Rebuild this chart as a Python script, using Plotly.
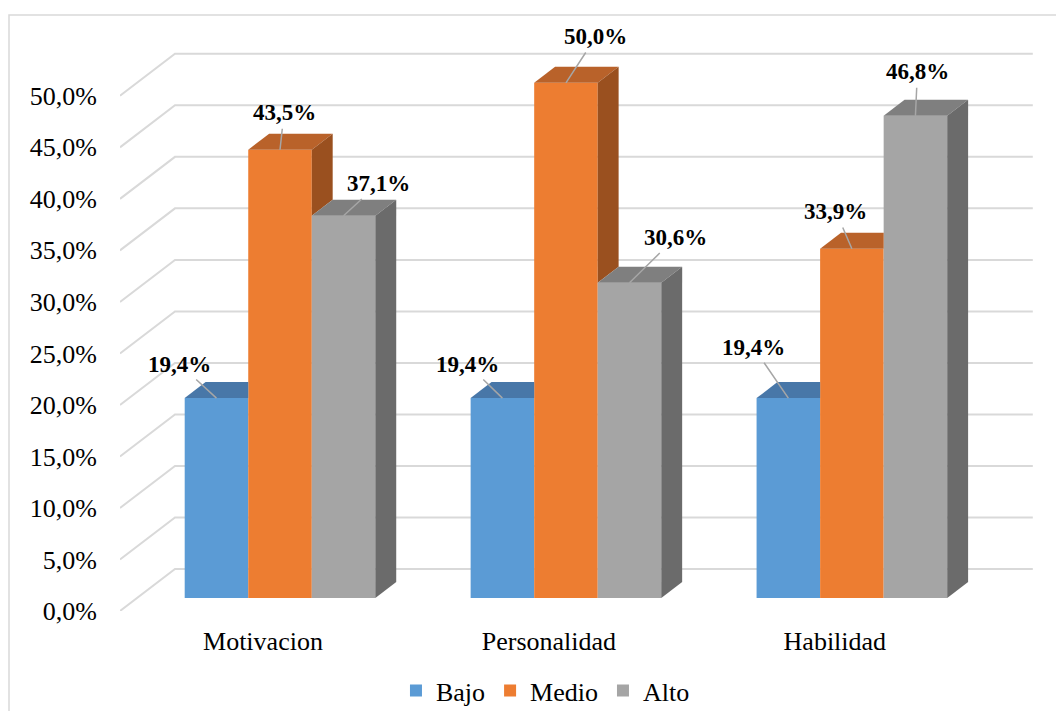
import plotly.graph_objects as go

# ---------------- data ----------------
categories = ["Motivacion", "Personalidad", "Habilidad"]
series_names = ["Bajo", "Medio", "Alto"]
bajo = [19.4, 19.4, 19.4]
medio = [43.5, 50.0, 33.9]
alto = [37.1, 30.6, 46.8]
y_ticks = [0, 5, 10, 15, 20, 25, 30, 35, 40, 45, 50]
y_tick_labels = ["0,0%", "5,0%", "10,0%", "15,0%", "20,0%", "25,0%",
                 "30,0%", "35,0%", "40,0%", "45,0%", "50,0%"]

series_values = [bajo, medio, alto]

# ---------------- style ----------------
front_colors = ["#5B9BD5", "#ED7D31", "#A5A5A5"]
top_colors = ["#4877A8", "#B9622A", "#7F7F7F"]
side_colors = ["#3E6690", "#9A501F", "#6B6B6B"]
grid_color = "#D9D9D9"
FONT = "Liberation Serif, Times New Roman, serif"

# pixel offsets of the data labels (text centre relative to the bar top)
label_offsets = [
    [(-37, -34), (-35, -34), (-35, -51)],
    [(4, -37), (30, -46), (-16, -37)],
    [(35, -32), (46, -45), (2, -44)],
]

# pseudo-3D geometry (axis units)
DX = 55 / 286.0          # full depth, x component (category units)
DY = 42 / 10.3           # full depth, y component (percent units)
F0, F1 = 0.31, 0.69      # bar front / back depth fractions
GAP = 1 / 6.0            # gap at each side of a group
W = (1 - 2 * GAP) / 3    # bar width
BASE = F0 * DY
SX = F0 * DX
ddx = (F1 - F0) * DX
ddy = (F1 - F0) * DY

fig = go.Figure()

# back wall + left wall gridlines (below traces)
shapes = []
for t in y_ticks:
    path = f"M 0,{t} L {DX},{t + DY} L {3 + DX},{t + DY}"
    shapes.append(dict(type="path", path=path, xref="x", yref="y",
                       line=dict(color=grid_color, width=2), layer="below"))

# chart border
shapes.append(dict(type="rect", xref="paper", yref="paper",
                   x0=(9 - 120) / 915, x1=1.3, y0=-0.4, y1=(611 - 15) / 577,
                   line=dict(color=grid_color, width=1.5), layer="below"))


def poly(xs, ys, color):
    fig.add_trace(go.Scatter(x=xs + [xs[0]], y=ys + [ys[0]], mode="lines",
                             fill="toself", fillcolor=color,
                             line=dict(width=0, color=color),
                             hoverinfo="skip", showlegend=False))


annotations = []
for s, vals in enumerate(series_values):
    xs_center = []
    for c, v in enumerate(vals):
        xl = c + GAP + s * W + SX
        xr = xl + W
        h = v + BASE
        xs_center.append(xl + W / 2)
        neighbor_h = None
        if s < 2:
            neighbor_h = series_values[s + 1][c] + BASE
        # top face
        if neighbor_h is not None and neighbor_h >= h:
            poly([xl, xr, xr, xl + ddx], [h, h, h + ddy, h + ddy], top_colors[s])
        else:
            poly([xl, xr, xr + ddx, xl + ddx], [h, h, h + ddy, h + ddy], top_colors[s])
        # side face
        if neighbor_h is None:
            poly([xr, xr, xr + ddx, xr + ddx], [BASE, h, h + ddy, BASE + ddy], side_colors[s])
        elif h > neighbor_h:
            poly([xr, xr, xr + ddx, xr + ddx],
                 [neighbor_h, h, h + ddy, neighbor_h + ddy], side_colors[s])
        ox, oy = label_offsets[s][c]
        annotations.append(dict(
            x=xl + W / 2, y=h, xref="x", yref="y",
            text="<b>" + f"{v:.1f}".replace(".", ",") + "%</b>",
            showarrow=True, arrowhead=0, arrowwidth=1.5, arrowcolor="#A6A6A6",
            ax=ox, ay=oy, standoff=0, startstandoff=2,
            font=dict(family=FONT, size=23, color="#000000")))
    fig.add_trace(go.Bar(x=xs_center, y=vals, base=BASE, width=W,
                         name=series_names[s],
                         marker=dict(color=front_colors[s], line=dict(width=0)),
                         hoverinfo="skip"))

fig.update_layout(
    width=1056, height=711,
    margin=dict(l=120, r=21, t=34, b=100, autoexpand=False),
    paper_bgcolor="white", plot_bgcolor="rgba(0,0,0,0)",
    shapes=shapes, annotations=annotations,
    font=dict(family=FONT, size=26, color="#000000"),
    barmode="overlay",
    xaxis=dict(range=[0, 3.2], showgrid=False, zeroline=False, showline=False,
               tickvals=[0.5, 1.5, 2.5], ticktext=categories,
               ticks="", ticklabelstandoff=12, automargin=False,
               tickfont=dict(family=FONT, size=26, color="#000000")),
    yaxis=dict(range=[0, 56], showgrid=False, zeroline=False, showline=False,
               tickvals=y_ticks, ticktext=y_tick_labels,
               ticks="", ticklabelstandoff=22, automargin=False,
               tickfont=dict(family=FONT, size=26, color="#000000")),
    legend=dict(orientation="h", x=0.465, xanchor="center", y=-0.138, yanchor="middle",
                font=dict(family=FONT, size=26, color="#000000"),
                itemwidth=30, bgcolor="rgba(0,0,0,0)"),
    showlegend=True,
)

fig.write_html("out.html")
